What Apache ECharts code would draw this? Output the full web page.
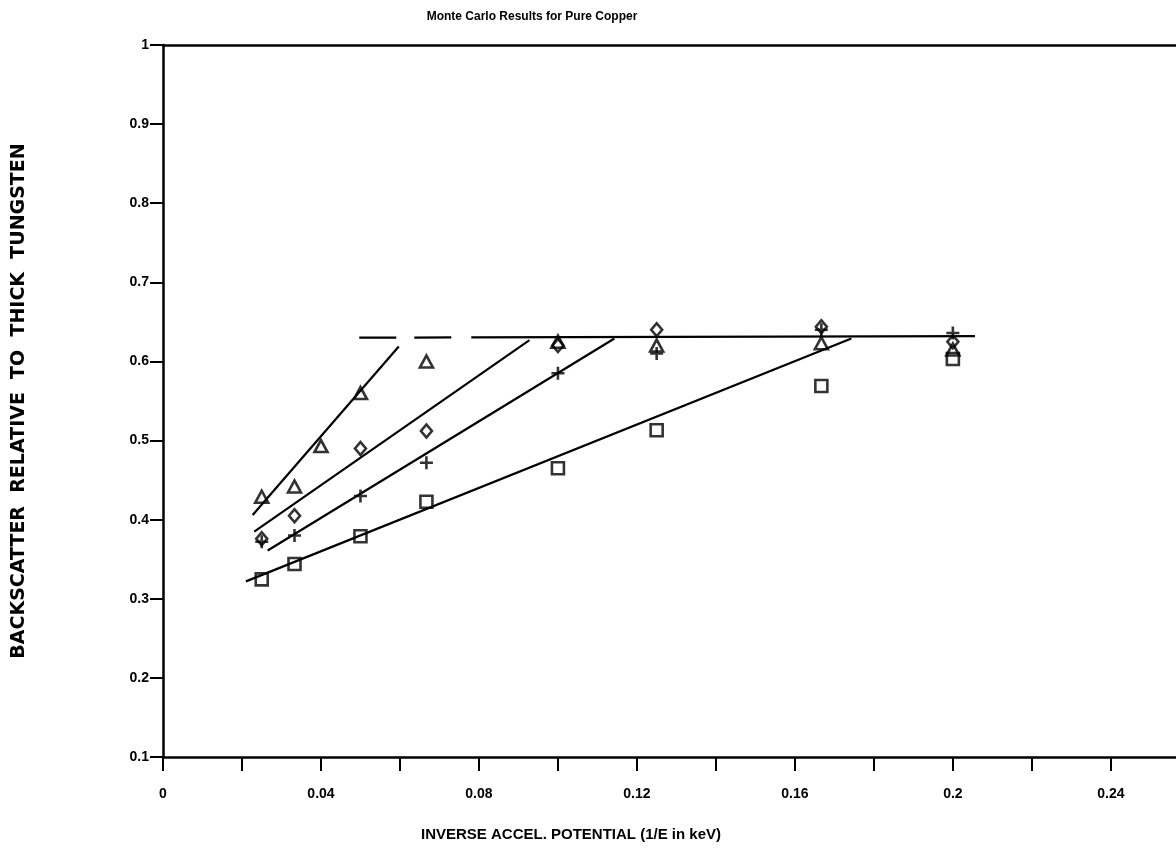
<!DOCTYPE html>
<html>
<head>
<meta charset="utf-8">
<title>Monte Carlo Results for Pure Copper</title>
<script src="https://cdn.jsdelivr.net/npm/echarts@6/dist/echarts.min.js"></script>
<style>
  html, body { margin: 0; padding: 0; background: #fff; }
  #chart { width: 1176px; height: 854px; }
</style>
</head>
<body>
<div id="chart"></div>
<script>
// Inverse accelerating potential (1/E, keV^-1) and backscatter relative to thick tungsten
const triX = [0.025, 0.0333, 0.04, 0.05, 0.0667, 0.1, 0.125, 0.1667, 0.2];
const triY = [0.429, 0.442, 0.493, 0.560, 0.600, 0.625, 0.620, 0.623, 0.615];

const diaX = [0.025, 0.0333, 0.05, 0.0667, 0.1, 0.125, 0.1667, 0.2];
const diaY = [0.376, 0.405, 0.490, 0.512, 0.620, 0.640, 0.644, 0.625];

const plusX = [0.025, 0.0333, 0.05, 0.0667, 0.1, 0.125, 0.1667, 0.2];
const plusY = [0.372, 0.380, 0.430, 0.472, 0.585, 0.610, 0.640, 0.636];

const sqX = [0.025, 0.0333, 0.05, 0.0667, 0.1, 0.125, 0.1667, 0.2];
const sqY = [0.3245, 0.344, 0.379, 0.4226, 0.465, 0.513, 0.569, 0.603];

// Straight-line fits (end points) and the saturation level
const triFit = [[0.0227, 0.406], [0.0597, 0.619]];
const diaFit = [[0.0231, 0.385], [0.0928, 0.627]];
const plusFit = [[0.0265, 0.361], [0.1143, 0.629]];
const sqFit = [[0.021, 0.322], [0.1743, 0.629]];
const plateau = [[0.0497, 0.630], [0.2056, 0.632]];

const xTickLabels = ['0', '0.04', '0.08', '0.12', '0.16', '0.2', '0.24'];
const yTickLabels = ['0.1', '0.2', '0.3', '0.4', '0.5', '0.6', '0.7', '0.8', '0.9', '1'];

const X_MAX = 0.2565; // the frame runs on past the last labelled tick

const zip = (xs, ys) => xs.map((x, i) => [x, ys[i]]);

const INK = '#000';
const openStyle = { color: 'none', borderColor: INK, borderWidth: 2.6 };
const PLUS = 'path://M5,0L5,10M0,5L10,5';
const FIT_W = 2.2;

const chart = echarts.init(document.getElementById('chart'), null, { renderer: 'canvas' });

chart.setOption({
  animation: false,
  backgroundColor: '#fff',
  textStyle: { fontFamily: '"Liberation Sans", Arial, sans-serif', color: INK },
  grid: { left: 163, top: 45, right: 0, bottom: 97, show: false },
  graphic: [
    {
      type: 'text', x: 532, y: 17, silent: true,
      style: {
        text: 'Monte Carlo Results for Pure Copper',
        font: 'bold 12px "Liberation Sans", Arial, sans-serif',
        fill: INK, align: 'center', verticalAlign: 'middle',
        textAlign: 'center', textVerticalAlign: 'middle'
      }
    },
    {
      type: 'text', x: 571, y: 835, silent: true,
      style: {
        text: 'INVERSE ACCEL. POTENTIAL (1/E in keV)',
        font: 'bold 15px "Liberation Sans", Arial, sans-serif',
        fill: INK, align: 'center', verticalAlign: 'middle',
        textAlign: 'center', textVerticalAlign: 'middle'
      }
    }
  ],
  xAxis: [
    {
      type: 'value', min: 0, max: X_MAX, interval: 0.02, position: 'bottom',
      axisLine: { show: true, onZero: false, lineStyle: { color: INK, width: 2.5 } },
      axisTick: { show: true, inside: false, length: 14, lineStyle: { color: INK, width: 2 } },
      splitLine: { show: false },
      axisLabel: {
        margin: 30, fontSize: 14, fontWeight: 'bold', color: INK,
        showMaxLabel: false,
        formatter: v => {
          const n = Math.round(v * 100);
          if (Math.abs(v * 100 - n) > 1e-6 || n % 4 !== 0) return '';
          return xTickLabels[n / 4] || '';
        }
      }
    },
    {
      // top edge of the frame
      type: 'value', min: 0, max: X_MAX, position: 'top',
      axisLine: { show: true, onZero: false, lineStyle: { color: INK, width: 2.5 } },
      axisTick: { show: false }, axisLabel: { show: false }, splitLine: { show: false }
    }
  ],
  yAxis: {
    type: 'value', min: 0.1, max: 1, interval: 0.1,
    name: 'BACKSCATTER  RELATIVE  TO  THICK  TUNGSTEN',
    nameLocation: 'middle', nameGap: 134,
    nameTextStyle: { fontSize: 19, fontWeight: 'bold', fontFamily: '"DejaVu Sans", sans-serif', color: INK },
    axisLine: { show: true, lineStyle: { color: INK, width: 2.5 } },
    axisTick: { show: true, inside: false, length: 13, lineStyle: { color: INK, width: 2 } },
    splitLine: { show: false },
    axisLabel: {
      margin: 14, fontSize: 14, fontWeight: 'bold', color: INK,
      formatter: v => yTickLabels[Math.round(v * 10) - 1] || ''
    }
  },
  series: [
    {
      type: 'line', data: plateau, symbol: 'none', silent: true,
      lineStyle: { color: INK, width: FIT_W, type: [37, 18, 37, 20, 700] }
    },
    { type: 'line', data: triFit, symbol: 'none', silent: true, lineStyle: { color: INK, width: FIT_W } },
    { type: 'line', data: diaFit, symbol: 'none', silent: true, lineStyle: { color: INK, width: FIT_W } },
    { type: 'line', data: plusFit, symbol: 'none', silent: true, lineStyle: { color: INK, width: FIT_W } },
    { type: 'line', data: sqFit, symbol: 'none', silent: true, lineStyle: { color: INK, width: FIT_W } },
    { type: 'scatter', data: zip(triX, triY), symbol: 'triangle', symbolSize: [13, 12], itemStyle: openStyle },
    { type: 'scatter', data: zip(diaX, diaY), symbol: 'diamond', symbolSize: [11, 13], itemStyle: openStyle },
    { type: 'scatter', data: zip(plusX, plusY), symbol: PLUS, symbolSize: 13, itemStyle: openStyle },
    { type: 'scatter', data: zip(sqX, sqY), symbol: 'rect', symbolSize: 12, itemStyle: openStyle }
  ]
});
</script>
</body>
</html>
